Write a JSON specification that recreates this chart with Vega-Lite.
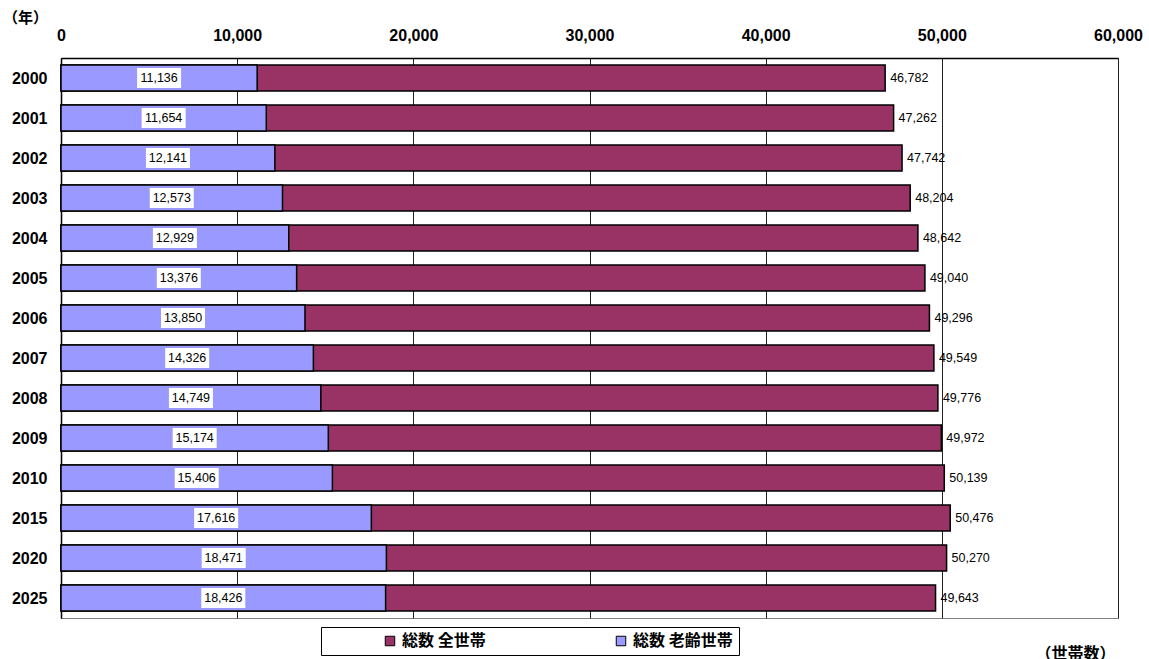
{
  "$schema": "https://vega.github.io/schema/vega-lite/v6.json",
  "width": 1057,
  "height": 560,
  "autosize": {"type": "none"},
  "padding": {"left": 61, "top": 58, "right": 31, "bottom": 41},
  "background": "white",
  "config": {"view": {"stroke": "#808080", "strokeWidth": 1}, "font": "Liberation Sans"},
  "data": {
    "values": [
      {"year": "2000", "total": 46782, "elderly": 11136},
      {"year": "2001", "total": 47262, "elderly": 11654},
      {"year": "2002", "total": 47742, "elderly": 12141},
      {"year": "2003", "total": 48204, "elderly": 12573},
      {"year": "2004", "total": 48642, "elderly": 12929},
      {"year": "2005", "total": 49040, "elderly": 13376},
      {"year": "2006", "total": 49296, "elderly": 13850},
      {"year": "2007", "total": 49549, "elderly": 14326},
      {"year": "2008", "total": 49776, "elderly": 14749},
      {"year": "2009", "total": 49972, "elderly": 15174},
      {"year": "2010", "total": 50139, "elderly": 15406},
      {"year": "2015", "total": 50476, "elderly": 17616},
      {"year": "2020", "total": 50270, "elderly": 18471},
      {"year": "2025", "total": 49643, "elderly": 18426}
    ]
  },
  "resolve": {"scale": {"x": "independent"}, "axis": {"x": "independent"}},
  "encoding": {
    "y": {
      "field": "year",
      "type": "ordinal",
      "sort": null,
      "scale": {"paddingInner": 0.35, "paddingOuter": 0.175},
      "axis": {
        "title": "（年）",
        "titleX": -36,
        "titleY": -41,
        "titleAngle": 0,
        "titleAlign": "center",
        "titleBaseline": "middle",
        "titleFont": "Noto Sans CJK JP",
        "titleFontWeight": "bold",
        "titleFontSize": 15,
        "titleColor": "black",
        "labelFont": "Liberation Sans",
        "labelFontWeight": "bold",
        "labelFontSize": 16,
        "labelColor": "black",
        "labelPadding": 19,
        "ticks": true,
        "tickBand": "extent",
        "tickSize": -5,
        "tickColor": "black",
        "domainColor": "black",
        "domainWidth": 1.5
      }
    }
  },
  "layer": [
    {
      "mark": {"type": "bar", "stroke": "black", "strokeWidth": 1.5},
      "encoding": {
        "x": {
          "field": "total",
          "type": "quantitative",
          "scale": {"domain": [0, 60000], "nice": false},
          "axis": {
            "orient": "top",
            "values": [0, 10000, 20000, 30000, 40000, 50000, 60000],
            "format": ",d",
            "labelFlush": false,
            "labelFont": "Liberation Sans",
            "labelFontWeight": "bold",
            "labelFontSize": 16,
            "labelColor": "black",
            "labelPadding": 15,
            "ticks": false,
            "grid": true,
            "gridColor": "#222222",
            "gridWidth": 1,
            "domainColor": "black",
            "domainWidth": 1.5,
            "title": "（世帯数）",
            "titleX": 1014,
            "titleY": 595,
            "titleAlign": "center",
            "titleBaseline": "middle",
            "titleFont": "Noto Sans CJK JP",
            "titleFontWeight": "bold",
            "titleFontSize": 16,
            "titleColor": "black"
          }
        },
        "color": {
          "datum": "総数 全世帯",
          "type": "nominal",
          "scale": {"domain": ["総数 全世帯", "総数 老齢世帯"], "range": ["#993366", "#9999FF"]},
          "legend": {
            "title": null,
            "orient": "none",
            "legendX": 260,
            "legendY": 569,
            "direction": "horizontal",
            "fillColor": "white",
            "strokeColor": "black",
            "padding": 6,
            "symbolType": "square",
            "symbolSize": 90,
            "symbolStrokeColor": "black",
            "symbolStrokeWidth": 1,
            "symbolOffset": 55,
            "labelFont": "Noto Sans CJK JP",
            "labelFontWeight": "bold",
            "labelFontSize": 16,
            "labelColor": "black",
            "labelOffset": 4,
            "labelLimit": 0,
            "columnPadding": 72
          }
        }
      }
    },
    {
      "mark": {"type": "bar", "stroke": "black", "strokeWidth": 1.5},
      "encoding": {
        "x": {"field": "elderly", "type": "quantitative", "scale": {"domain": [0, 60000], "nice": false}, "axis": null},
        "color": {"datum": "総数 老齢世帯", "type": "nominal"}
      }
    },
    {
      "mark": {"type": "point", "shape": "M-1,-0.45L1,-0.45L1,0.45L-1,0.45Z", "filled": true, "color": "white", "opacity": 1, "size": 1936, "strokeWidth": 0},
      "encoding": {
        "x": {"field": "elderly", "type": "quantitative", "scale": {"domain": [0, 120000], "nice": false}, "axis": null}
      }
    },
    {
      "mark": {"type": "text", "fontSize": 12.5, "font": "Liberation Sans", "color": "black", "align": "center", "baseline": "middle"},
      "encoding": {
        "x": {"field": "elderly", "type": "quantitative", "scale": {"domain": [0, 120000], "nice": false}, "axis": null},
        "text": {"field": "elderly", "type": "quantitative", "format": ",d"}
      }
    },
    {
      "mark": {"type": "text", "fontSize": 12.5, "font": "Liberation Sans", "color": "black", "align": "left", "baseline": "middle", "dx": 5},
      "encoding": {
        "x": {"field": "total", "type": "quantitative", "scale": {"domain": [0, 60000], "nice": false}, "axis": null},
        "text": {"field": "total", "type": "quantitative", "format": ",d"}
      }
    }
  ]
}
